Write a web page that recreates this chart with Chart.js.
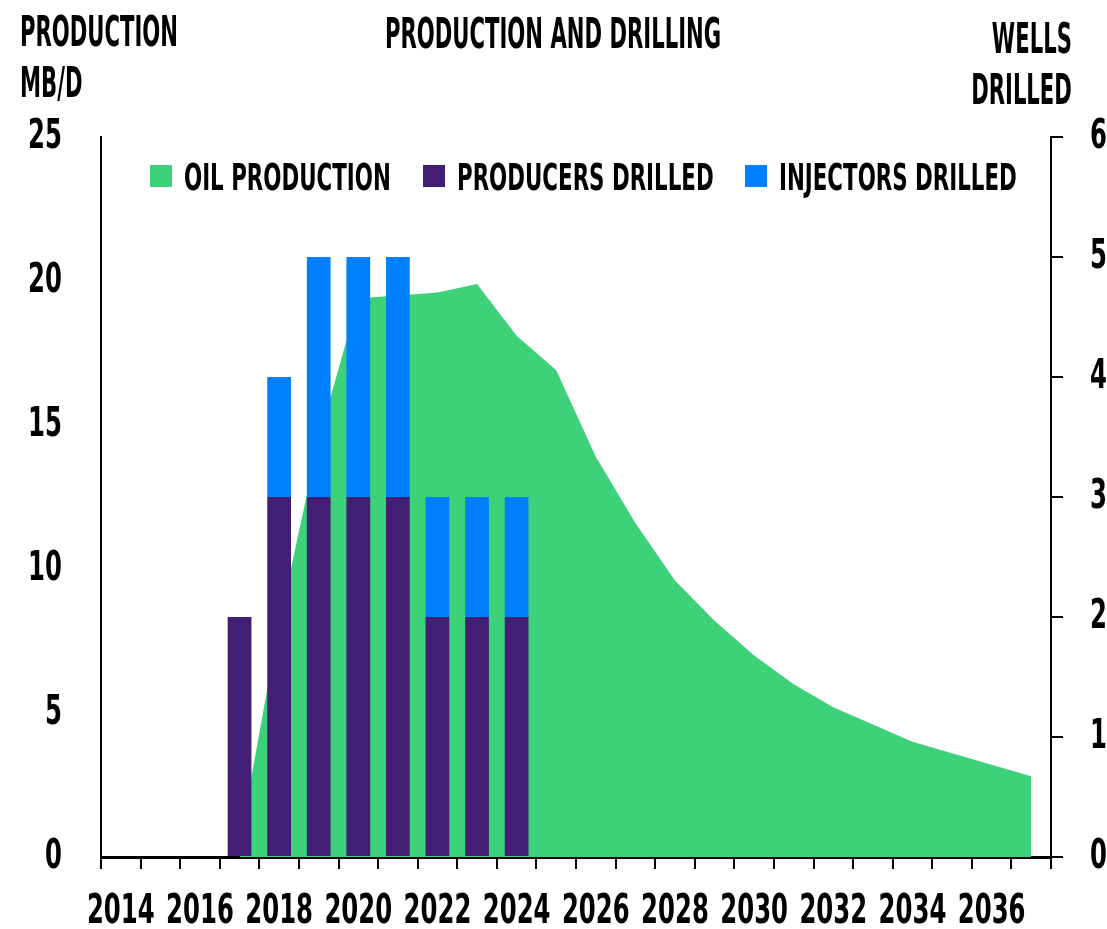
<!DOCTYPE html>
<html lang="en">
<head>
    <meta charset="UTF-8">
    <title>Production and Drilling</title>
    <script src="https://cdn.jsdelivr.net/npm/chart.js"></script>
    <style>
        body { margin: 0; background: #fff; }
        #wrap { position: relative; width: 1107px; height: 929px; }
        .lbl {
            position: absolute;
            font-family: 'DejaVu Sans Condensed', 'DejaVu Sans', sans-serif;
            font-weight: bold;
            font-size: 42px;
            line-height: 51px;
            color: #000;
            white-space: nowrap;
            transform: scaleX(0.56);
        }
        #legend { position: absolute; left: 150px; top: 156px; height: 42px; }
        #legend .box { position: absolute; top: 9px; width: 22px; height: 22px; }
        #legend .txt {
            position: absolute;
            top: 0;
            font-family: 'DejaVu Sans Condensed', 'DejaVu Sans', sans-serif;
            font-weight: bold;
            font-size: 38px;
            line-height: 42px;
            white-space: nowrap;
            transform: scaleX(0.625);
            transform-origin: left top;
        }
    </style>
</head>
<body>
<div id="wrap">
    <canvas id="chart" width="1107" height="929"></canvas>
    <div class="lbl" style="left:20px; top:6px; transform-origin:left top;">PRODUCTION<br>MB/D</div>
    <div class="lbl" style="left:385px; top:8px; transform-origin:left top;">PRODUCTION AND DRILLING</div>
    <div class="lbl" style="right:35px; top:13px; text-align:right; transform-origin:right top;">WELLS<br>DRILLED</div>
    <div id="legend"></div>
</div>

<script>
    const years = ['2014', '2015', '2016', '2017', '2018', '2019', '2020', '2021', '2022', '2023', '2024', '2025',
                   '2026', '2027', '2028', '2029', '2030', '2031', '2032', '2033', '2034', '2035', '2036', '2037'];

    // oil production, MB/D (left axis)
    const oilProduction = [null, null, null, 0.5, 8.1, 14.5, 19.4, 19.5, 19.6, 19.9, 18.1, 16.9,
                           13.9, 11.6, 9.6, 8.2, 7.0, 6.0, 5.2, 4.6, 4.0, 3.6, 3.2, 2.8];

    // wells drilled (right axis)
    const producersDrilled = [null, null, null, 2, 3, 3, 3, 3, 2, 2, 2, null,
                              null, null, null, null, null, null, null, null, null, null, null, null];
    const injectorsDrilled = [null, null, null, null, 1, 2, 2, 2, 1, 1, 1, null,
                              null, null, null, null, null, null, null, null, null, null, null, null];

    const FONT = "'DejaVu Sans Condensed', 'DejaVu Sans', sans-serif";
    const SQUEEZE = 0.66; // the original uses a very narrow display face

    // squeeze canvas text horizontally around its anchor point
    const narrowText = {
        id: 'narrowText',
        beforeInit(chart) {
            const c = chart.ctx;
            const fill = c.fillText.bind(c);
            c.fillText = function (text, x, y) {
                c.save();
                c.translate(x, y);
                c.scale(SQUEEZE, 1);
                fill(text, 0, 0);
                c.restore();
            };
        }
    };

    const ctx = document.getElementById('chart').getContext('2d');

    const chart = new Chart(ctx, {
        type: 'bar',
        data: {
            labels: years,
            datasets: [
                {
                    type: 'line',
                    label: 'OIL PRODUCTION',
                    data: oilProduction,
                    yAxisID: 'y',
                    backgroundColor: '#3dd17a',
                    borderColor: '#3dd17a',
                    borderWidth: 0,
                    pointRadius: 0,
                    fill: 'origin',
                    tension: 0,
                    order: 2
                },
                {
                    label: 'PRODUCERS DRILLED',
                    data: producersDrilled,
                    yAxisID: 'y2',
                    backgroundColor: '#421f75',
                    stack: 'wells',
                    order: 1
                },
                {
                    label: 'INJECTORS DRILLED',
                    data: injectorsDrilled,
                    yAxisID: 'y2',
                    backgroundColor: '#0080ff',
                    stack: 'wells',
                    order: 1
                }
            ]
        },
        options: {
            responsive: false,
            animation: false,
            categoryPercentage: 1,
            barPercentage: 0.6,
            layout: { padding: { top: 137 } },
            plugins: {
                legend: { display: false },
                tooltip: { enabled: false }
            },
            scales: {
                x: {
                    stacked: true,
                    offset: true,
                    grid: {
                        offset: true,
                        drawOnChartArea: false,
                        drawTicks: true,
                        tickLength: 12,
                        color: '#000',
                        lineWidth: 2
                    },
                    border: { display: true, color: '#000', width: 3 },
                    ticks: {
                        autoSkip: false,
                        maxRotation: 0,
                        padding: 19,
                        color: '#000',
                        font: { family: FONT, weight: 'bold', size: 41 },
                        callback: (val, i) => (i % 2 === 0 ? years[i] : '')
                    },
                    afterFit: (scale) => { scale.height = 72; }
                },
                y: {
                    position: 'left',
                    min: 0,
                    max: 25,
                    grid: { display: false, drawTicks: false },
                    border: { display: true, color: '#000', width: 2 },
                    ticks: {
                        stepSize: 5,
                        padding: 39,
                        color: '#000',
                        font: { family: FONT, weight: 'bold', size: 41 }
                    },
                    afterFit: (scale) => { scale.width = 101; }
                },
                y2: {
                    position: 'right',
                    stacked: true,
                    min: 0,
                    max: 6,
                    grid: {
                        drawOnChartArea: false,
                        drawTicks: true,
                        tickLength: 12,
                        color: '#000',
                        lineWidth: 2
                    },
                    border: { display: true, color: '#000', width: 2 },
                    ticks: {
                        stepSize: 1,
                        padding: 27,
                        color: '#000',
                        font: { family: FONT, weight: 'bold', size: 41 }
                    },
                    afterFit: (scale) => { scale.width = 56; }
                }
            }
        },
        plugins: [narrowText]
    });

    // html legend, in dataset order, laid out left to right
    const legend = document.getElementById('legend');
    let cursor = 0;
    chart.data.datasets.forEach((ds) => {
        const box = document.createElement('div');
        box.className = 'box';
        box.style.left = cursor + 'px';
        box.style.background = ds.backgroundColor;
        legend.appendChild(box);

        const txt = document.createElement('div');
        txt.className = 'txt';
        txt.textContent = ds.label;
        txt.style.left = (cursor + 34) + 'px';
        legend.appendChild(txt);

        cursor += 34 + txt.getBoundingClientRect().width + 32;
    });
</script>
</body>
</html>
